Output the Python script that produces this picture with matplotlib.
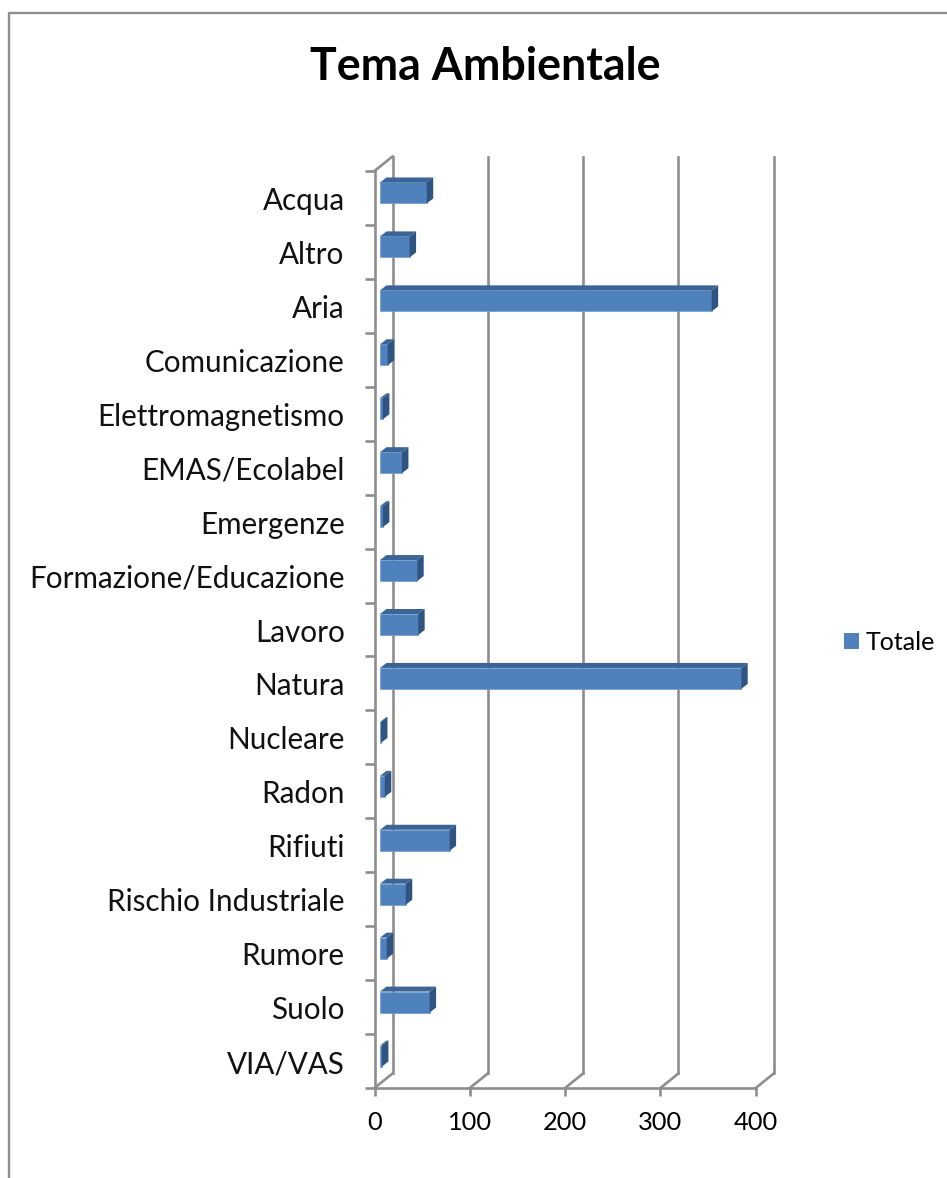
import matplotlib
matplotlib.use('agg')
import matplotlib.pyplot as plt
from matplotlib.lines import Line2D
from matplotlib.patches import Patch, Polygon
from matplotlib.transforms import ScaledTranslation

categories = ['Acqua', 'Altro', 'Aria', 'Comunicazione', 'Elettromagnetismo',
              'EMAS/Ecolabel', 'Emergenze', 'Formazione/Educazione', 'Lavoro',
              'Natura', 'Nucleare', 'Radon', 'Rifiuti', 'Rischio Industriale',
              'Rumore', 'Suolo', 'VIA/VAS']
values = [49, 31, 348, 8, 3, 23, 3, 39, 40, 379, 1, 5, 73, 27, 7, 52, 2]
xticks = [0, 100, 200, 300, 400]

W, H = 947, 1178
plt.rcParams['font.family'] = ['Lato', 'DejaVu Sans']

fig = plt.figure(figsize=(W / 100, H / 100), dpi=100)
# front plane of the fake 3d box, pixels from the reference
left, right, top, bottom = 374.5, 755.7, 171, 1088
ax = fig.add_axes([left / W, 1 - bottom / H, (right - left) / W, (bottom - top) / H])
ax.set_xlim(0, 400)
ax.set_ylim(len(categories) - 0.5, -0.5)
ax.patch.set_visible(False)
for s in ax.spines.values():
    s.set_visible(False)

GREY = '#8e8e8e'
LW = 1.9
px_x = 400 / (right - left)
px_y = len(categories) / (bottom - top)

# wall and floor: depth of box
box_dx, box_dy = 18 * px_x, -14.5 * px_y
y0, y1 = -0.5, len(categories) - 0.5
for t in xticks:
    ax.plot([t + box_dx, t + box_dx], [y0 + box_dy, y1 + box_dy], color=GREY, lw=LW, clip_on=False, zorder=1)
    ax.plot([t, t + box_dx], [y1, y1 + box_dy], color=GREY, lw=LW, clip_on=False, zorder=1)
ax.plot([0, box_dx], [y0, y0 + box_dy], color=GREY, lw=LW, clip_on=False, zorder=1)
ax.plot([0, 0], [y0, y1], color=GREY, lw=LW, clip_on=False, zorder=1)
ax.plot([0, 400], [y1, y1], color=GREY, lw=LW, clip_on=False, zorder=1)

# bars: front face + top + side
bar_h = 21 * px_y
start = 5.8
off_y = -5 * px_y
dx, dy = 6.5 * px_x, -5 * px_y
ypos = list(range(len(categories)))
ax.barh(ypos, values, left=start, height=bar_h, color='#4f81bd', edgecolor='#6f9bd0', linewidth=0.5,
        zorder=3)
for bar in ax.patches:
    bar.set_y(bar.get_y() + off_y)
for i, v in enumerate(values):
    yt = i + off_y - bar_h / 2
    yb = i + off_y + bar_h / 2
    x2 = start + v
    ax.add_patch(Polygon([(start, yt), (start + dx, yt + dy), (x2 + dx, yt + dy), (x2, yt)],
                         closed=True, fc='#3b6497', ec='none', zorder=3))
    ax.add_patch(Polygon([(x2, yt), (x2 + dx, yt + dy), (x2 + dx, yb + dy), (x2, yb)],
                         closed=True, fc='#2f5482', ec='none', zorder=3))

ax.set_xticks(xticks)
ax.set_yticks(ypos)
ax.set_yticklabels(categories, va='center')
ax.set_yticks([i - 0.5 for i in range(len(categories) + 1)], minor=True)
ax.tick_params(axis='y', which='major', length=0, pad=21.5, labelsize=21.3)
ax.tick_params(axis='y', which='minor', length=7.5, width=LW, color=GREY)
ax.tick_params(axis='x', length=6, width=LW, color=GREY, pad=10.5, labelsize=18.3)
# labels sit a little under the band centre
shift = ScaledTranslation(0, -3 / 100, fig.dpi_scale_trans)
for lab in ax.get_yticklabels():
    lab.set_color('#111111')
    lab.set_transform(lab.get_transform() + shift)

fig.text(485 / W, 1 - 67 / H, 'Tema Ambientale', ha='center', va='center',
         fontsize=32.2, fontweight='bold', color='black')

fig.legend(handles=[Patch(fc='#4f81bd', label='Totale')], loc='center left',
           bbox_to_anchor=(821.5 / W, 1 - 642 / H), frameon=False, fontsize=18,
           handlelength=0.6, handleheight=0.6, handletextpad=0.25)

# outer chart border, open on the right and bottom
fig.add_artist(Line2D([8.5 / W, 8.5 / W, 1], [0, 1 - 13 / H, 1 - 13 / H], color=GREY, lw=1.7))

fig.savefig('out.png', dpi=100)
